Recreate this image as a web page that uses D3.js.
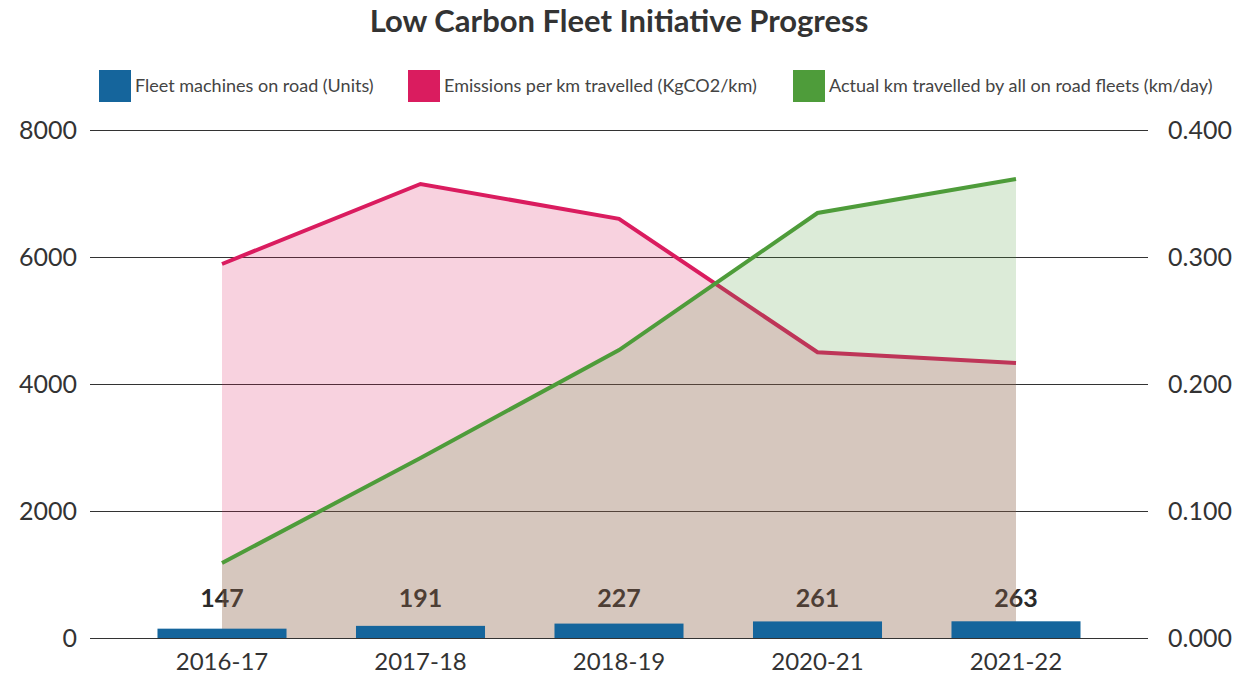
<!DOCTYPE html>
<html>
<head>
<meta charset="utf-8">
<script src="https://cdn.jsdelivr.net/npm/d3@7"></script>
<style>
  body { margin: 0; background: #fff; }
  svg text { font-family: Lato, "Open Sans", sans-serif; }
</style>
</head>
<body>
<svg id="chart" width="1250" height="675"></svg>
<script>
// data
var years = ["2016-17", "2017-18", "2018-19", "2020-21", "2021-22"];
var fleetUnits = [147, 191, 227, 261, 263];
var emissionsPerKm = [0.2945, 0.3575, 0.330, 0.225, 0.2165];
var kmPerDay = [1180, 2835, 4535, 6693, 7228];
var leftTicks = [0, 2000, 4000, 6000, 8000];
var rightTicks = [0, 0.1, 0.2, 0.3, 0.4];

var seriesNames = [
  "Fleet machines on road (Units)",
  "Emissions per km travelled (KgCO2/km)",
  "Actual km travelled by all on road fleets (km/day)"
];
var colors = ["#15659c", "#da1c5f", "#4e9c3a"];

var svg = d3.select("#chart");
var plotL = 90, plotR = 1148, plotT = 130, plotB = 638;

var x = d3.scalePoint().domain(years).range([plotL, plotR]).padding(0.665);
var yL = d3.scaleLinear().domain([0, 8000]).range([plotB, plotT]);
var yR = d3.scaleLinear().domain([0, 0.4]).range([plotB, plotT]);
var barW = x.step() * 0.65;

// title
svg.append("text")
  .attr("x", (plotL + plotR) / 2).attr("y", 32)
  .attr("text-anchor", "middle")
  .style("font-size", "31px").style("font-weight", "bold").style("fill", "#333")
  .text("Low Carbon Fleet Initiative Progress");

// legend
var legendX = [99, 408, 793];
var legend = svg.append("g").selectAll("g")
  .data(seriesNames).enter().append("g")
  .attr("transform", function (d, i) { return "translate(" + legendX[i] + ",70)"; });
legend.append("rect")
  .attr("width", 32).attr("height", 32)
  .style("fill", function (d, i) { return colors[i]; });
legend.append("text")
  .attr("x", 36).attr("y", 22)
  .style("font-size", "18px").style("fill", "#444")
  .text(function (d) { return d; });

// gridlines
svg.append("g").selectAll("line")
  .data(leftTicks).enter().append("line")
  .attr("x1", plotL).attr("x2", plotR)
  .attr("y1", function (d) { return yL(d) + 0.5; })
  .attr("y2", function (d) { return yL(d) + 0.5; })
  .style("stroke", "#333").style("stroke-width", 1.2);

// left axis
var axL = svg.append("g").attr("transform", "translate(" + plotL + ",0)")
  .call(d3.axisLeft(yL).tickValues(leftTicks).tickSize(0).tickPadding(13).tickFormat(d3.format("d")));
axL.select(".domain").remove();
axL.selectAll("text").style("font-size", "25px").style("fill", "#333");

// right axis
var axR = svg.append("g").attr("transform", "translate(" + plotR + ",0)")
  .call(d3.axisRight(yR).tickValues(rightTicks).tickSize(0).tickPadding(20).tickFormat(d3.format(".3f")));
axR.select(".domain").remove();
axR.selectAll("text").style("font-size", "25px").style("fill", "#333");

// x labels
svg.append("g").selectAll("text")
  .data(years).enter().append("text")
  .attr("x", function (d) { return x(d); }).attr("y", 670)
  .attr("text-anchor", "middle")
  .style("font-size", "24px").style("fill", "#333")
  .text(function (d) { return d; });

// bar value labels (sit under the areas)
svg.append("g").selectAll("text")
  .data(fleetUnits).enter().append("text")
  .attr("x", function (d, i) { return x(years[i]); })
  .attr("y", 607)
  .attr("text-anchor", "middle")
  .style("font-size", "25px").style("font-weight", "bold").style("fill", "#2a2a2a")
  .text(function (d) { return d; });

// emissions area + line
var areaR = d3.area()
  .x(function (d, i) { return x(years[i]); })
  .y0(plotB).y1(function (d) { return yR(d); });
var lineR = d3.line()
  .x(function (d, i) { return x(years[i]); })
  .y(function (d) { return yR(d); });
svg.append("path").datum(emissionsPerKm).attr("d", areaR)
  .style("fill", colors[1]).style("fill-opacity", 0.2);
svg.append("path").datum(emissionsPerKm).attr("d", lineR)
  .style("fill", "none").style("stroke", colors[1]).style("stroke-width", 4);

// km/day area + line
var areaL = d3.area()
  .x(function (d, i) { return x(years[i]); })
  .y0(plotB).y1(function (d) { return yL(d); });
var lineL = d3.line()
  .x(function (d, i) { return x(years[i]); })
  .y(function (d) { return yL(d); });
svg.append("path").datum(kmPerDay).attr("d", areaL)
  .style("fill", colors[2]).style("fill-opacity", 0.2);
svg.append("path").datum(kmPerDay).attr("d", lineL)
  .style("fill", "none").style("stroke", colors[2]).style("stroke-width", 4);

// bars
svg.append("g").selectAll("rect")
  .data(fleetUnits).enter().append("rect")
  .attr("x", function (d, i) { return x(years[i]) - barW / 2; })
  .attr("width", barW)
  .attr("y", function (d) { return yL(d); })
  .attr("height", function (d) { return plotB - yL(d); })
  .style("fill", colors[0]);
</script>
</body>
</html>
